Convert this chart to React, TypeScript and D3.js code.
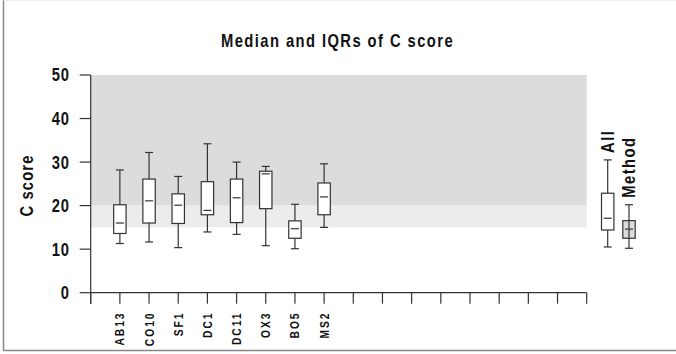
import React from "react";
import * as d3 from "d3";

const categories = ["AB13", "CO10", "SF1", "DC1", "DC11", "OX3", "BO5", "MS2"];
const whiskerLow = [11.3, 11.65, 10.35, 13.95, 13.4, 10.8, 10.1, 15.0];
const q1 = [13.6, 16.0, 15.9, 17.9, 16.1, 19.3, 12.5, 17.9];
const medians = [16.0, 21.1, 20.1, 18.9, 21.8, 27.3, 14.7, 22.0];
const q3 = [20.2, 26.1, 22.7, 25.5, 26.1, 27.9, 16.5, 25.2];
const whiskerHigh = [28.2, 32.2, 26.7, 34.2, 30.0, 29.0, 20.3, 29.6];

const summaryNames = ["All", "Method"];
const summaryLow = [10.5, 10.2];
const summaryQ1 = [14.4, 12.5];
const summaryMedian = [17.1, 14.6];
const summaryQ3 = [22.85, 16.55];
const summaryHigh = [30.5, 20.2];

const yTicks = [0, 10, 20, 30, 40, 50];
const slotCount = 17;
const bandDark = [20, 50];
const bandLight = [15, 20];

const FONT = "'Liberation Sans', Arial, sans-serif";
const STROKE = "#333";
const SQ = 0.82;

type TProps = {
  x: number;
  y: number;
  rotate?: number;
  anchor?: "start" | "middle" | "end";
  size: number;
  spacing: number;
  dy?: string;
  children: React.ReactNode;
};

function NarrowText({ x, y, rotate = 0, anchor = "start", size, spacing, dy, children }: TProps) {
  return (
    <text
      transform={`translate(${x},${y}) rotate(${rotate}) scale(${SQ},1)`}
      textAnchor={anchor}
      dy={dy}
      fontFamily={FONT}
      fontWeight="bold"
      fontSize={size}
      letterSpacing={spacing}
      fill="#111"
    >
      {children}
    </text>
  );
}

export default function App() {
  const x = d3.scaleLinear().domain([0, slotCount]).range([90.7, 586.7]);
  const y = d3.scaleLinear().domain([0, 50]).range([292.7, 75]);
  const boxW = 12.4;
  const capW = 8;
  const summaryX = [607.7, 629];

  const drawBox = (cx: number, lo: number, a: number, m: number, b: number, hi: number, fill: string, key: string) => (
    <g key={key} stroke={STROKE} strokeWidth={1.2}>
      <line x1={cx} x2={cx} y1={y(hi)} y2={y(lo)} />
      <line x1={cx - capW / 2} x2={cx + capW / 2} y1={y(hi)} y2={y(hi)} />
      <line x1={cx - capW / 2} x2={cx + capW / 2} y1={y(lo)} y2={y(lo)} />
      <rect x={cx - boxW / 2} y={y(b)} width={boxW} height={y(a) - y(b)} fill={fill} />
      {fill !== "#fff" && <line x1={cx} x2={cx} y1={y(b)} y2={y(a)} />}
      <line x1={cx - capW / 2} x2={cx + capW / 2} y1={y(m)} y2={y(m)} />
    </g>
  );

  return (
    <svg width={676} height={354} style={{ position: "absolute", left: 0, top: 0, background: "#fff" }}>
      {/* frame */}
      <line x1={3.5} x2={3.5} y1={0} y2={351} stroke="#888" strokeWidth={1.5} />
      <line x1={3.5} x2={676} y1={350.5} y2={350.5} stroke="#888" strokeWidth={1.5} />
      <line x1={3.5} x2={676} y1={0.5} y2={0.5} stroke="#eee" strokeWidth={1} />

      <NarrowText x={337.5} y={47} anchor="middle" size={18} spacing={1.75}>
        Median and IQRs of C score
      </NarrowText>

      {/* background bands */}
      <rect x={x(0)} y={y(bandDark[1])} width={x(slotCount) - x(0)} height={y(bandDark[0]) - y(bandDark[1])} fill="#dcdcdc" />
      <rect x={x(0)} y={y(bandLight[1])} width={x(slotCount) - x(0)} height={y(bandLight[0]) - y(bandLight[1])} fill="#ececec" />

      {/* y axis */}
      <line x1={x(0)} x2={x(0)} y1={y(50)} y2={y(0) + 11} stroke={STROKE} strokeWidth={1.2} />
      {yTicks.map((t) => (
        <g key={t}>
          <line x1={x(0) - 11} x2={x(0)} y1={y(t)} y2={y(t)} stroke={STROKE} strokeWidth={1.2} />
          <NarrowText x={70} y={y(t)} dy="0.36em" anchor="end" size={18} spacing={1.2}>
            {t}
          </NarrowText>
        </g>
      ))}
      <NarrowText x={33} y={185.5} rotate={-90} anchor="middle" size={18} spacing={1.4}>
        C score
      </NarrowText>

      {/* x axis */}
      <line x1={x(0)} x2={x(slotCount)} y1={y(0)} y2={y(0)} stroke={STROKE} strokeWidth={1.2} />
      {d3.range(slotCount + 1).map((i) => (
        <line key={i} x1={x(i)} x2={x(i)} y1={y(0)} y2={y(0) + 11} stroke={STROKE} strokeWidth={1.2} />
      ))}
      {categories.map((c, i) => (
        <NarrowText key={c} x={x(i + 1) + 4.5} y={311.5} rotate={-90} anchor="end" size={12.5} spacing={2.4}>
          {c}
        </NarrowText>
      ))}

      {categories.map((c, i) => drawBox(x(i + 1), whiskerLow[i], q1[i], medians[i], q3[i], whiskerHigh[i], "#fff", c))}

      {summaryNames.map((n, i) => (
        <g key={n}>
          {drawBox(summaryX[i], summaryLow[i], summaryQ1[i], summaryMedian[i], summaryQ3[i], summaryHigh[i], i === 0 ? "#fff" : "#dcdcdc", n)}
          <NarrowText x={summaryX[i] + 6} y={y(summaryHigh[i]) - 7} rotate={-90} anchor="start" size={18} spacing={1.8}>
            {n}
          </NarrowText>
        </g>
      ))}
    </svg>
  );
}
